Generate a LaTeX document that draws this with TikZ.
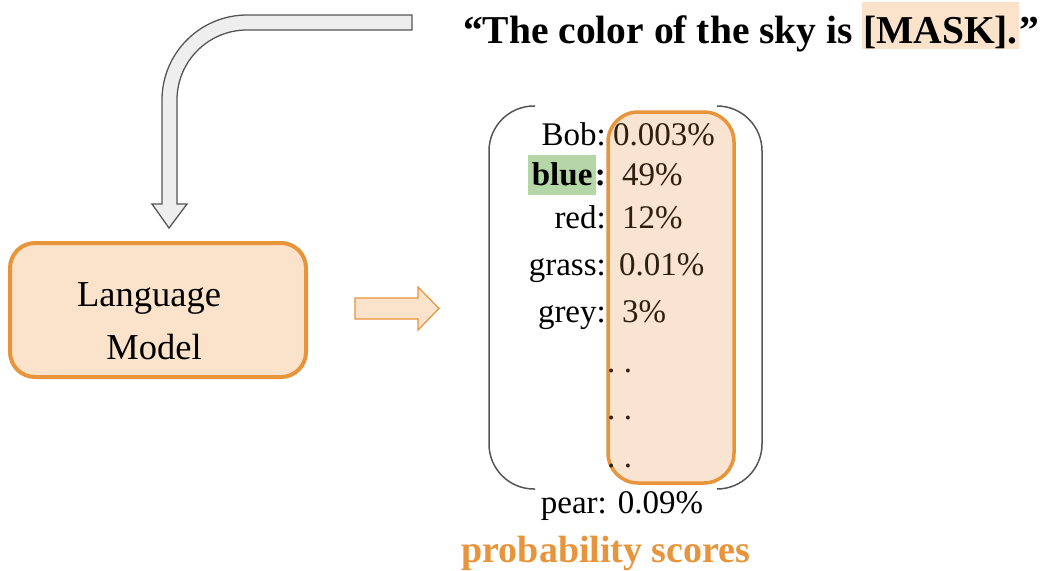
\documentclass[tikz,border=0pt]{standalone}
\usepackage{fontspec}
\setmainfont{Liberation Serif}
\definecolor{orng}{HTML}{E8943A}
\definecolor{lmfill}{HTML}{FBE3CB}
\definecolor{probfill}{HTML}{F9E3D1}
\definecolor{arrgray}{HTML}{555555}
\definecolor{arrfill}{HTML}{EEEEEE}
\definecolor{hlgreen}{HTML}{B5D6A6}
\definecolor{valtxt}{HTML}{2E1F0F}
\begin{document}
\begin{tikzpicture}[x=1pt,y=-1pt,
  lbl/.style={anchor=base east, inner sep=0pt, font=\fontsize{33}{40}\selectfont},
  val/.style={anchor=base west, inner sep=0pt, text=valtxt, font=\fontsize{33}{40}\selectfont},
  ttl/.style={anchor=base west, inner sep=0pt, font=\bfseries\fontsize{39.5}{46}\selectfont},
  lmtxt/.style={anchor=base, inner sep=0pt, font=\fontsize{36.5}{44}\selectfont},
]
\useasboundingbox (0,0) rectangle (1051,570);

% title
\node[ttl] (t1) at (463,43) {“The color of the sky is};
\node[ttl, fill=lmfill, inner xsep=1pt, text height=41pt, text depth=6pt] (mask) at ([xshift=9pt]t1.base east) {[MASK].};
\node[ttl] (t3) at (mask.base east) {”};

% curved gray arrow
\draw[draw=arrgray, fill=arrfill, line width=1.3pt, line join=miter]
  (412,15) -- (247,15) .. controls (200.1,15) and (162,53.1) .. (162,100)
  -- (162,204) -- (152,204) -- (169,228) -- (187,204) -- (177,204)
  -- (177,100) .. controls (177,61.3) and (208.3,30) .. (247,30) -- (412,30) -- cycle;

% language model box
\node[draw=orng, line width=4pt, fill=lmfill, rounded corners=25pt,
      minimum width=296pt, minimum height=134pt, inner sep=0pt] (lm) at (158,310) {};
\node[lmtxt] (lm1) at (149,306) {Language};
\node[lmtxt] (lm2) at (154,359) {Model};

% small orange arrow
\draw[draw=orng, fill=lmfill, line width=1.2pt]
  (355,298) -- (418,298) -- (418,287) -- (439,308.5) -- (418,330) -- (418,319) -- (355,319) -- cycle;

% brackets
\draw[arrgray, line width=1.5pt, rounded corners=45pt] (535,106) -- (489,106) -- (489,489) -- (535,489);
\draw[arrgray, line width=1.5pt, rounded corners=45pt] (717,106) -- (762,106) -- (762,489) -- (717,489);

% probability box
\node[draw=orng, line width=3.5pt, fill=probfill, rounded corners=30pt,
      minimum width=126pt, minimum height=371pt, inner sep=0pt] (probs) at (671,297.5) {};

% rows
\node[lbl] (bob) at (606,145) {Bob:};
\node[val] (bobv) at (613,145) {0.003\%};

\node[lbl, font=\bfseries\fontsize{33}{40}\selectfont] (bcolon) at (606,185) {:};
\node[lbl, font=\bfseries\fontsize{33}{40}\selectfont, fill=hlgreen, inner xsep=4pt,
      text height=30pt, text depth=10pt] (blue) at ([xshift=2pt]bcolon.base west) {blue};
\node[val] (bluev) at (622,185) {49\%};

\node[lbl] (red) at (606,228) {red:};
\node[val] (redv) at (622,228) {12\%};

\node[lbl] (grass) at (606,275) {grass:};
\node[val] (grassv) at (619,275) {0.01\%};

\node[lbl] (grey) at (606,322) {grey:};
\node[val] (greyv) at (622,322) {3\%};

\node[val] (d1) at (607,372) {.\hspace{8.5pt}.};
\node[val] (d2) at (607,419) {.\hspace{8.5pt}.};
\node[val] (d3) at (607,467) {.\hspace{8.5pt}.};

\node[anchor=base, inner sep=0pt, font=\fontsize{33}{40}\selectfont] (pear) at (622,513) {pear: 0.09\%};

\node[anchor=base, inner sep=0pt, text=orng, font=\bfseries\fontsize{38}{46}\selectfont] (ps) at (606,562) {probability scores};
\end{tikzpicture}
\end{document}
